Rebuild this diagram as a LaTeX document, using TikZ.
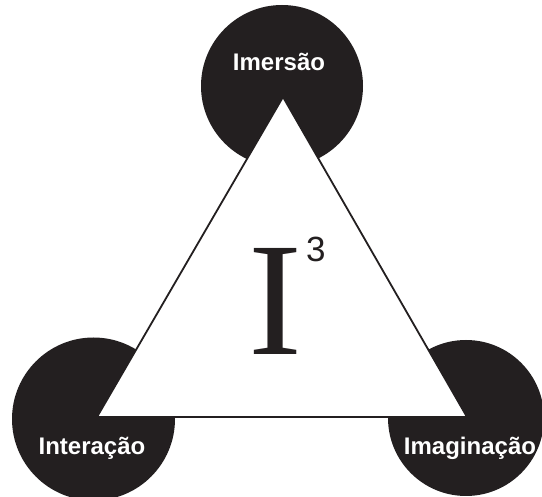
\documentclass[tikz,border=0pt]{standalone}
\usepackage{fontspec}
\setmainfont{Liberation Sans}
\newfontfamily\serifI{Liberation Serif}
\definecolor{ink}{HTML}{231F20}
\begin{document}
\begin{tikzpicture}[x=1pt,y=-1pt,
  blob/.style={circle,fill=ink,draw=none,minimum size=#1,inner sep=0pt},
  lbl/.style={text=white,font=\fontsize{24}{24}\selectfont\bfseries,inner sep=0pt}]
\useasboundingbox (0,0) rectangle (542,497);
\fill[white] (0,0) rectangle (542,497);
\node[blob=162pt] (ctop) at (282,86) {};
\node[blob=163pt] (cleft) at (93.5,419) {};
\node[blob=156pt] (cright) at (466,418) {};
\coordinate (vtop) at (283,97);
\coordinate (vleft) at (97,417);
\coordinate (vright) at (467,417);
\draw[fill=white,draw=ink,line width=1.8pt,line join=miter] (vtop) -- (vleft) -- (vright) -- cycle;
\node[lbl] (limm) at (279,62) {Imersão};
\node[lbl] (lint) at (92,448) {Interação};
\node[lbl] (limg) at (470,448) {Imaginação};
\node[inner sep=0pt,anchor=base,text=ink,font=\serifI\fontsize{162}{162}\selectfont] (bigI) at (275,355) {I};
\node[inner sep=0pt,anchor=base west,text=ink,font=\fontsize{35}{35}\selectfont] (three) at (306,262) {3};
\end{tikzpicture}
\end{document}
